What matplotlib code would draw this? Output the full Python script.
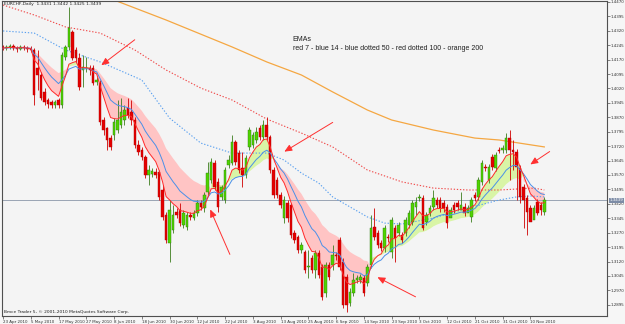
import numpy as np
import pandas as pd
import matplotlib
matplotlib.use("Agg")
import matplotlib.pyplot as plt

# ---------------- data (EURCHF daily) ----------------
date_labels = ["23 Apr 2010", "5 May 2010", "17 May 2010", "27 May 2010", "8 Jun 2010",
               "18 Jun 2010", "30 Jun 2010", "12 Jul 2010", "22 Jul 2010", "3 Aug 2010",
               "13 Aug 2010", "25 Aug 2010", "6 Sep 2010", "14 Sep 2010", "23 Sep 2010",
               "3 Oct 2010", "12 Oct 2010", "21 Oct 2010", "31 Oct 2010", "10 Nov 2010"]
label_step = 8  # bars between date labels

opens = [1.4236, 1.4230, 1.4236, 1.4241, 1.4230, 1.4225, 1.4236, 1.4230, 1.4225,
         1.4220, 1.4126, 1.4090, 1.4002, 1.3960, 1.3950, 1.3934, 1.3960, 1.3934,
         1.4184, 1.4236, 1.4314, 1.4220, 1.4178, 1.4116, 1.4126, 1.4126, 1.4126,
         1.4054, 1.4048, 1.3856, 1.3814, 1.3762, 1.3778, 1.3804, 1.3830, 1.3856,
         1.3918, 1.3898, 1.3856, 1.3726, 1.3700, 1.3664, 1.3570, 1.3575, 1.3586,
         1.3586, 1.3492, 1.3362, 1.3216, 1.3284, 1.3378, 1.3388, 1.3310, 1.3300,
         1.3362, 1.3346, 1.3372, 1.3424, 1.3398, 1.3482, 1.3544, 1.3632, 1.3534,
         1.3456, 1.3440, 1.3622, 1.3632, 1.3742, 1.3684, 1.3606, 1.3570, 1.3716,
         1.3726, 1.3752, 1.3814, 1.3768, 1.3830, 1.3768, 1.3596, 1.3544, 1.3466,
         1.3346, 1.3424, 1.3414, 1.3268, 1.3248, 1.3180, 1.3170, 1.3092, 1.3138,
         1.3076, 1.3164, 1.3092, 1.2956, 1.3102, 1.3102, 1.3154, 1.3232, 1.3118,
         1.3040, 1.2904, 1.2956, 1.3024, 1.3024, 1.3034, 1.3008, 1.3102, 1.3300,
         1.3268, 1.3216, 1.3190, 1.3248, 1.3170, 1.3294, 1.3268, 1.3258, 1.3268,
         1.3310, 1.3326, 1.3404, 1.3450, 1.3450, 1.3326, 1.3372, 1.3404, 1.3440,
         1.3440, 1.3424, 1.3404, 1.3346, 1.3414, 1.3424, 1.3388, 1.3404, 1.3372,
         1.3352, 1.3466, 1.3456, 1.3534, 1.3612, 1.3544, 1.3664, 1.3606, 1.3700,
         1.3700, 1.3700, 1.3762, 1.3700, 1.3690, 1.3606, 1.3508, 1.3450, 1.3398,
         1.3336, 1.3430, 1.3414, 1.3378]
closes = [1.4230, 1.4236, 1.4241, 1.4230, 1.4225, 1.4236, 1.4230, 1.4225, 1.4220,
          1.3986, 1.4090, 1.3970, 1.3950, 1.3939, 1.3934, 1.3950, 1.3934, 1.4194,
          1.4236, 1.4334, 1.4178, 1.4178, 1.4028, 1.4132, 1.4126, 1.4116, 1.4048,
          1.4064, 1.3846, 1.3804, 1.3752, 1.3716, 1.3846, 1.3856, 1.3898, 1.3908,
          1.3882, 1.3856, 1.3726, 1.3690, 1.3664, 1.3570, 1.3596, 1.3591, 1.3570,
          1.3456, 1.3352, 1.3232, 1.3388, 1.3362, 1.3362, 1.3320, 1.3372, 1.3362,
          1.3352, 1.3372, 1.3424, 1.3404, 1.3466, 1.3580, 1.3638, 1.3508, 1.3404,
          1.3508, 1.3596, 1.3648, 1.3742, 1.3638, 1.3596, 1.3570, 1.3658, 1.3804,
          1.3778, 1.3794, 1.3768, 1.3830, 1.3768, 1.3596, 1.3466, 1.3466, 1.3414,
          1.3440, 1.3346, 1.3258, 1.3232, 1.3180, 1.3206, 1.3076, 1.3092, 1.3076,
          1.3164, 1.3050, 1.2936, 1.3102, 1.3040, 1.3154, 1.3149, 1.3092, 1.2894,
          1.2894, 1.2962, 1.3024, 1.3034, 1.3040, 1.2956, 1.3092, 1.3294, 1.3248,
          1.3206, 1.3190, 1.3294, 1.3242, 1.3336, 1.3242, 1.3310, 1.3232, 1.3336,
          1.3372, 1.3424, 1.3430, 1.3456, 1.3294, 1.3362, 1.3398, 1.3450, 1.3414,
          1.3398, 1.3398, 1.3320, 1.3388, 1.3388, 1.3404, 1.3414, 1.3372, 1.3398,
          1.3440, 1.3450, 1.3544, 1.3632, 1.3606, 1.3612, 1.3612, 1.3674, 1.3695,
          1.3710, 1.3762, 1.3700, 1.3690, 1.3612, 1.3456, 1.3440, 1.3378, 1.3326,
          1.3398, 1.3372, 1.3388, 1.3439]
highs = [1.4246, 1.4246, 1.4251, 1.4251, 1.4241, 1.4246, 1.4246, 1.4241, 1.4241,
         1.4230, 1.4220, 1.4106, 1.4022, 1.3970, 1.3960, 1.3960, 1.3970, 1.4210,
         1.4246, 1.4444, 1.4324, 1.4236, 1.4204, 1.4194, 1.4184, 1.4142, 1.4142,
         1.4080, 1.4064, 1.3872, 1.3820, 1.3778, 1.3866, 1.3960, 1.3970, 1.3934,
         1.3970, 1.3960, 1.3872, 1.3752, 1.3716, 1.3674, 1.3622, 1.3606, 1.3606,
         1.3596, 1.3518, 1.3378, 1.3440, 1.3414, 1.3398, 1.3424, 1.3388, 1.3378,
         1.3378, 1.3388, 1.3440, 1.3440, 1.3482, 1.3638, 1.3658, 1.3648, 1.3554,
         1.3518, 1.3612, 1.3674, 1.3778, 1.3752, 1.3700, 1.3690, 1.3674, 1.3820,
         1.3794, 1.3820, 1.3830, 1.3856, 1.3872, 1.3778, 1.3612, 1.3560, 1.3482,
         1.3461, 1.3440, 1.3424, 1.3284, 1.3258, 1.3222, 1.3180, 1.3180, 1.3154,
         1.3180, 1.3180, 1.3107, 1.3118, 1.3118, 1.3206, 1.3170, 1.3248, 1.3138,
         1.3055, 1.2982, 1.3060, 1.3050, 1.3055, 1.3050, 1.3107, 1.3362, 1.3398,
         1.3284, 1.3232, 1.3310, 1.3263, 1.3352, 1.3310, 1.3326, 1.3274, 1.3352,
         1.3388, 1.3440, 1.3456, 1.3471, 1.3466, 1.3378, 1.3414, 1.3492, 1.3456,
         1.3456, 1.3440, 1.3419, 1.3404, 1.3430, 1.3440, 1.3482, 1.3424, 1.3414,
         1.3456, 1.3482, 1.3560, 1.3648, 1.3627, 1.3627, 1.3679, 1.3690, 1.3716,
         1.3726, 1.3788, 1.3804, 1.3752, 1.3705, 1.3622, 1.3523, 1.3466, 1.3414,
         1.3414, 1.3445, 1.3430, 1.3456]
lows = [1.4220, 1.4220, 1.4225, 1.4220, 1.4210, 1.4220, 1.4220, 1.4210, 1.4210,
        1.3934, 1.4012, 1.3960, 1.3934, 1.3918, 1.3918, 1.3918, 1.3918, 1.3918,
        1.4168, 1.4220, 1.4168, 1.4158, 1.4012, 1.4028, 1.4106, 1.4090, 1.4038,
        1.4038, 1.3830, 1.3778, 1.3700, 1.3700, 1.3752, 1.3788, 1.3814, 1.3830,
        1.3866, 1.3830, 1.3710, 1.3674, 1.3648, 1.3554, 1.3518, 1.3560, 1.3554,
        1.3440, 1.3336, 1.3216, 1.3118, 1.3268, 1.3346, 1.3305, 1.3294, 1.3284,
        1.3336, 1.3336, 1.3357, 1.3388, 1.3378, 1.3466, 1.3528, 1.3492, 1.3378,
        1.3440, 1.3424, 1.3606, 1.3622, 1.3622, 1.3580, 1.3508, 1.3554, 1.3700,
        1.3710, 1.3736, 1.3752, 1.3752, 1.3752, 1.3580, 1.3450, 1.3450, 1.3398,
        1.3320, 1.3326, 1.3242, 1.3216, 1.3164, 1.3164, 1.3060, 1.3034, 1.3060,
        1.3034, 1.3034, 1.2920, 1.2936, 1.3024, 1.3076, 1.3128, 1.3076, 1.2878,
        1.2858, 1.2888, 1.2941, 1.3008, 1.3008, 1.2941, 1.2993, 1.3086, 1.3232,
        1.3190, 1.3175, 1.3170, 1.3222, 1.3138, 1.3118, 1.3253, 1.3216, 1.3253,
        1.3294, 1.3310, 1.3362, 1.3435, 1.3284, 1.3310, 1.3357, 1.3388, 1.3398,
        1.3378, 1.3378, 1.3294, 1.3372, 1.3372, 1.3388, 1.3398, 1.3357, 1.3378,
        1.3326, 1.3435, 1.3440, 1.3518, 1.3591, 1.3528, 1.3596, 1.3591, 1.3684,
        1.3684, 1.3684, 1.3544, 1.3596, 1.3440, 1.3424, 1.3294, 1.3258, 1.3357,
        1.3357, 1.3362, 1.3362, 1.3362]

# long EMAs (bar index, price)
ema50_bar = [0, 9, 18, 28, 40, 48, 57, 66, 76, 81, 86, 91, 95, 105, 110, 115, 124, 134, 143, 148, 152, 156]
ema50_val = [1.4319, 1.4308, 1.4220, 1.4158, 1.4064, 1.3866, 1.3736, 1.3684, 1.3684, 1.3648, 1.3580,
             1.3528, 1.3456, 1.3352, 1.3320, 1.3315, 1.3346, 1.3398, 1.3440, 1.3456, 1.3461, 1.3456]
ema100_bar = [0, 9, 18, 28, 38, 47, 57, 66, 76, 86, 95, 105, 115, 124, 134, 143, 153, 156]
ema100_val = [1.4454, 1.4402, 1.4340, 1.4308, 1.4220, 1.4116, 1.4022, 1.3960, 1.3861, 1.3788, 1.3716,
              1.3596, 1.3534, 1.3502, 1.3492, 1.3492, 1.3502, 1.3492]
ema200_bar = [20, 32, 47, 66, 76, 86, 95, 105, 112, 124, 136, 143, 156]
ema200_val = [1.4545, 1.4480, 1.4376, 1.4236, 1.4158, 1.4090, 1.4002, 1.3908, 1.3856, 1.3804, 1.3762,
              1.3752, 1.3716]

ytick_vals = [1.4470 - 0.0075 * k for k in range(22)]
last_price = 1.3439
header = "EURCHF,Daily  1.3431 1.3442 1.3425 1.3439"
note_title = "EMAs"
note_text = "red 7 - blue 14 - blue dotted 50 - red dotted 100 - orange 200"
copyright_text = "Bmce Trader 5, \u00a9 2001-2010 MetaQuotes Software Corp."

# arrows: (tail bar, tail price, head bar, head price)
arrows = [(38.6, 1.4282, 27.7, 1.4132),
          (95.7, 1.3851, 80.4, 1.3684),
          (65.7, 1.3144, 59.4, 1.3404),
          (119.6, 1.2930, 107.2, 1.3045),
          (158.2, 1.3700, 151.3, 1.3617)]

# ---------------- figure ----------------
W, H = 625, 324
fig = plt.figure(figsize=(W / 100, H / 100), dpi=100)
bg = "#f4f4f4"
fig.patch.set_facecolor("#f6f6f6")
ax = fig.add_axes([2 / W, (H - 316) / H, (607 - 2) / W, (316 - 1) / H])
ax.set_facecolor(bg)

o = np.array(opens); c = np.array(closes); h = np.array(highs); l = np.array(lows)
n = len(c)
x = np.arange(n)

ema7 = pd.Series(c).ewm(span=7, adjust=False).mean().values
ema14 = pd.Series(c).ewm(span=14, adjust=False).mean().values
ema_band = pd.Series(c).ewm(span=24, adjust=False).mean().values

# band shading
up = ema7 >= ema14
ax.fill_between(x, ema7, ema_band, where=~up, interpolate=True, color="#ffc4c4", lw=0, zorder=1)
ax.fill_between(x, ema7, ema_band, where=up, interpolate=True, color="#d9f5a6", lw=0, zorder=1)

# long EMAs
ax.plot(ema200_bar, ema200_val, color="#f5a742", lw=0.9, zorder=2)
ax.plot(ema100_bar, ema100_val, color="#f04848", lw=0.8, ls=(0, (1.2, 1.6)), zorder=2)
ax.plot(ema50_bar, ema50_val, color="#5aa0f0", lw=0.8, ls=(0, (1.2, 1.6)), zorder=2)

# candles
bull = c >= o
wcol = np.where(bull, "#3c7d1e", "#d00000")
ax.vlines(x, l, h, colors=wcol, lw=0.6, zorder=3)
body_lo = np.minimum(o, c)
body_h = np.maximum(np.abs(c - o), 0.00025)
ax.bar(x[bull], body_h[bull], bottom=body_lo[bull], width=0.72,
       color="#4fd400", edgecolor="#2e7a10", lw=0.3, zorder=4)
ax.bar(x[~bull], body_h[~bull], bottom=body_lo[~bull], width=0.72,
       color="#e40000", edgecolor="#b00000", lw=0.3, zorder=4)

# short EMAs
ax.plot(x, ema14, color="#4a90e8", lw=0.7, zorder=5)
ax.plot(x, ema7, color="#ff2a2a", lw=0.7, zorder=5)

# last price line
ax.axhline(last_price, color="#9aa4b4", lw=0.7, zorder=1.5)

# arrows
for tx, ty, hx, hy in arrows:
    ax.annotate("", xy=(hx, hy), xytext=(tx, ty),
                arrowprops=dict(arrowstyle="-|>,head_length=0.45,head_width=0.2",
                                color="#ff3030", lw=0.7), zorder=6)

# texts
note_font = ["Liberation Sans", "DejaVu Sans"]
ax.text(83.5, 1.4277, note_title, fontsize=5.0, color="#202020", va="center", ha="left", family=note_font)
ax.text(83.5, 1.4230, note_text, fontsize=5.0, color="#202020", va="center", ha="left", family=note_font)
ax.text(0.003, 0.997, header, transform=ax.transAxes, fontsize=3.2, color="#202020", va="top", ha="left")
ax.text(0.003, 0.006, copyright_text, transform=ax.transAxes, fontsize=3.2, color="#202020",
        va="bottom", ha="left")

# limits
px_per_bar = 3.47
x0 = -1.0 / px_per_bar
ax.set_xlim(x0, x0 + 605 / px_per_bar)
ax.set_ylim(1.28368, 1.44748)

# axes styling
for s in ax.spines.values():
    s.set_color("#505050")
    s.set_linewidth(0.8)
ax.yaxis.tick_right()
ax.set_yticks(ytick_vals)
ax.set_yticklabels([f"{v:.4f}" for v in ytick_vals])
ax.tick_params(axis="y", labelsize=2.9, length=2, width=0.5, color="#505050", pad=0.8, labelcolor="#303030")
ax.set_xticks([i * label_step for i in range(len(date_labels))])
ax.set_xticklabels(date_labels)
ax.tick_params(axis="x", labelsize=2.9, length=2, width=0.5, color="#505050", pad=0.8, labelcolor="#303030")
for t in ax.get_xticklabels():
    t.set_horizontalalignment("left")

# price label on the right axis
ax.annotate(f"{last_price:.4f}", xy=(1.0, last_price), xycoords=("axes fraction", "data"),
            xytext=(2.2, 0), textcoords="offset points", fontsize=2.9, color="white",
            va="center", ha="left", annotation_clip=False,
            bbox=dict(boxstyle="square,pad=0.15", fc="#7d8ca6", ec="none"), zorder=10)

fig.savefig("out.png", dpi=100, facecolor=fig.get_facecolor())
